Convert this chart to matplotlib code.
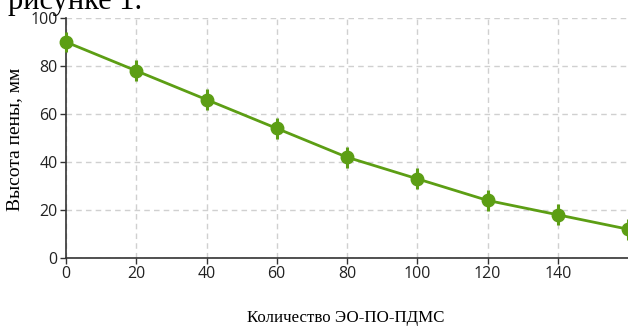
import numpy as np
import matplotlib
matplotlib.use('Agg')
import matplotlib.pyplot as plt

# data
amount = [0, 20, 40, 60, 80, 100, 120, 140, 160]
height = [90, 78, 66, 54, 42, 33, 24, 18, 12]
err = [4.3, 4.3, 4.3, 4.3, 4.3, 4.3, 4.3, 4.3, 4.3]
xticks = [0, 20, 40, 60, 80, 100, 120, 140]
yticks = [0, 20, 40, 60, 80, 100]

green = '#5c9e14'

fig = plt.figure(figsize=(6.28, 3.26), dpi=100)
ax = fig.add_axes([66/628, 68/326, 562/628, 240/326])

ax.errorbar(amount, height, yerr=err, color=green, lw=2, marker='o', ms=9,
            elinewidth=2.2, capsize=0, clip_on=False, zorder=3)

ax.set_xlim(0, 160)
ax.set_ylim(0, 100)
ax.set_xticks(xticks)
ax.set_yticks(yticks)
ax.grid(True, color='#d0d0d0', ls=(0, (4, 3)), lw=1)
ax.set_axisbelow(True)
for s in ['top', 'right']:
  ax.spines[s].set_visible(False)
for s in ['left', 'bottom']:
  ax.spines[s].set_color('#333333')
  ax.spines[s].set_linewidth(1.2)
ax.tick_params(length=4, width=1, color='#333333', labelcolor='#222222',
               labelsize=11.5, pad=2)
for lab in ax.get_xticklabels() + ax.get_yticklabels():
  lab.set_family('Open Sans')

fig.text(15/628, 1 - 139/326, 'Высота пены, мм', rotation=90, family='Liberation Serif',
         fontsize=14, ha='center', va='center')
fig.text(346/628, 1 - 318/326, 'Количество ЭО-ПО-ПДМС', family='Liberation Serif',
         fontsize=12.2, ha='center', va='center')
# caption text from the page above, cut off by the crop
fig.text(8/628, 1 - 9/326, 'рисунке 1.', family='Liberation Serif', fontsize=22,
         ha='left', va='baseline')

fig.savefig('out.png', dpi=100)
